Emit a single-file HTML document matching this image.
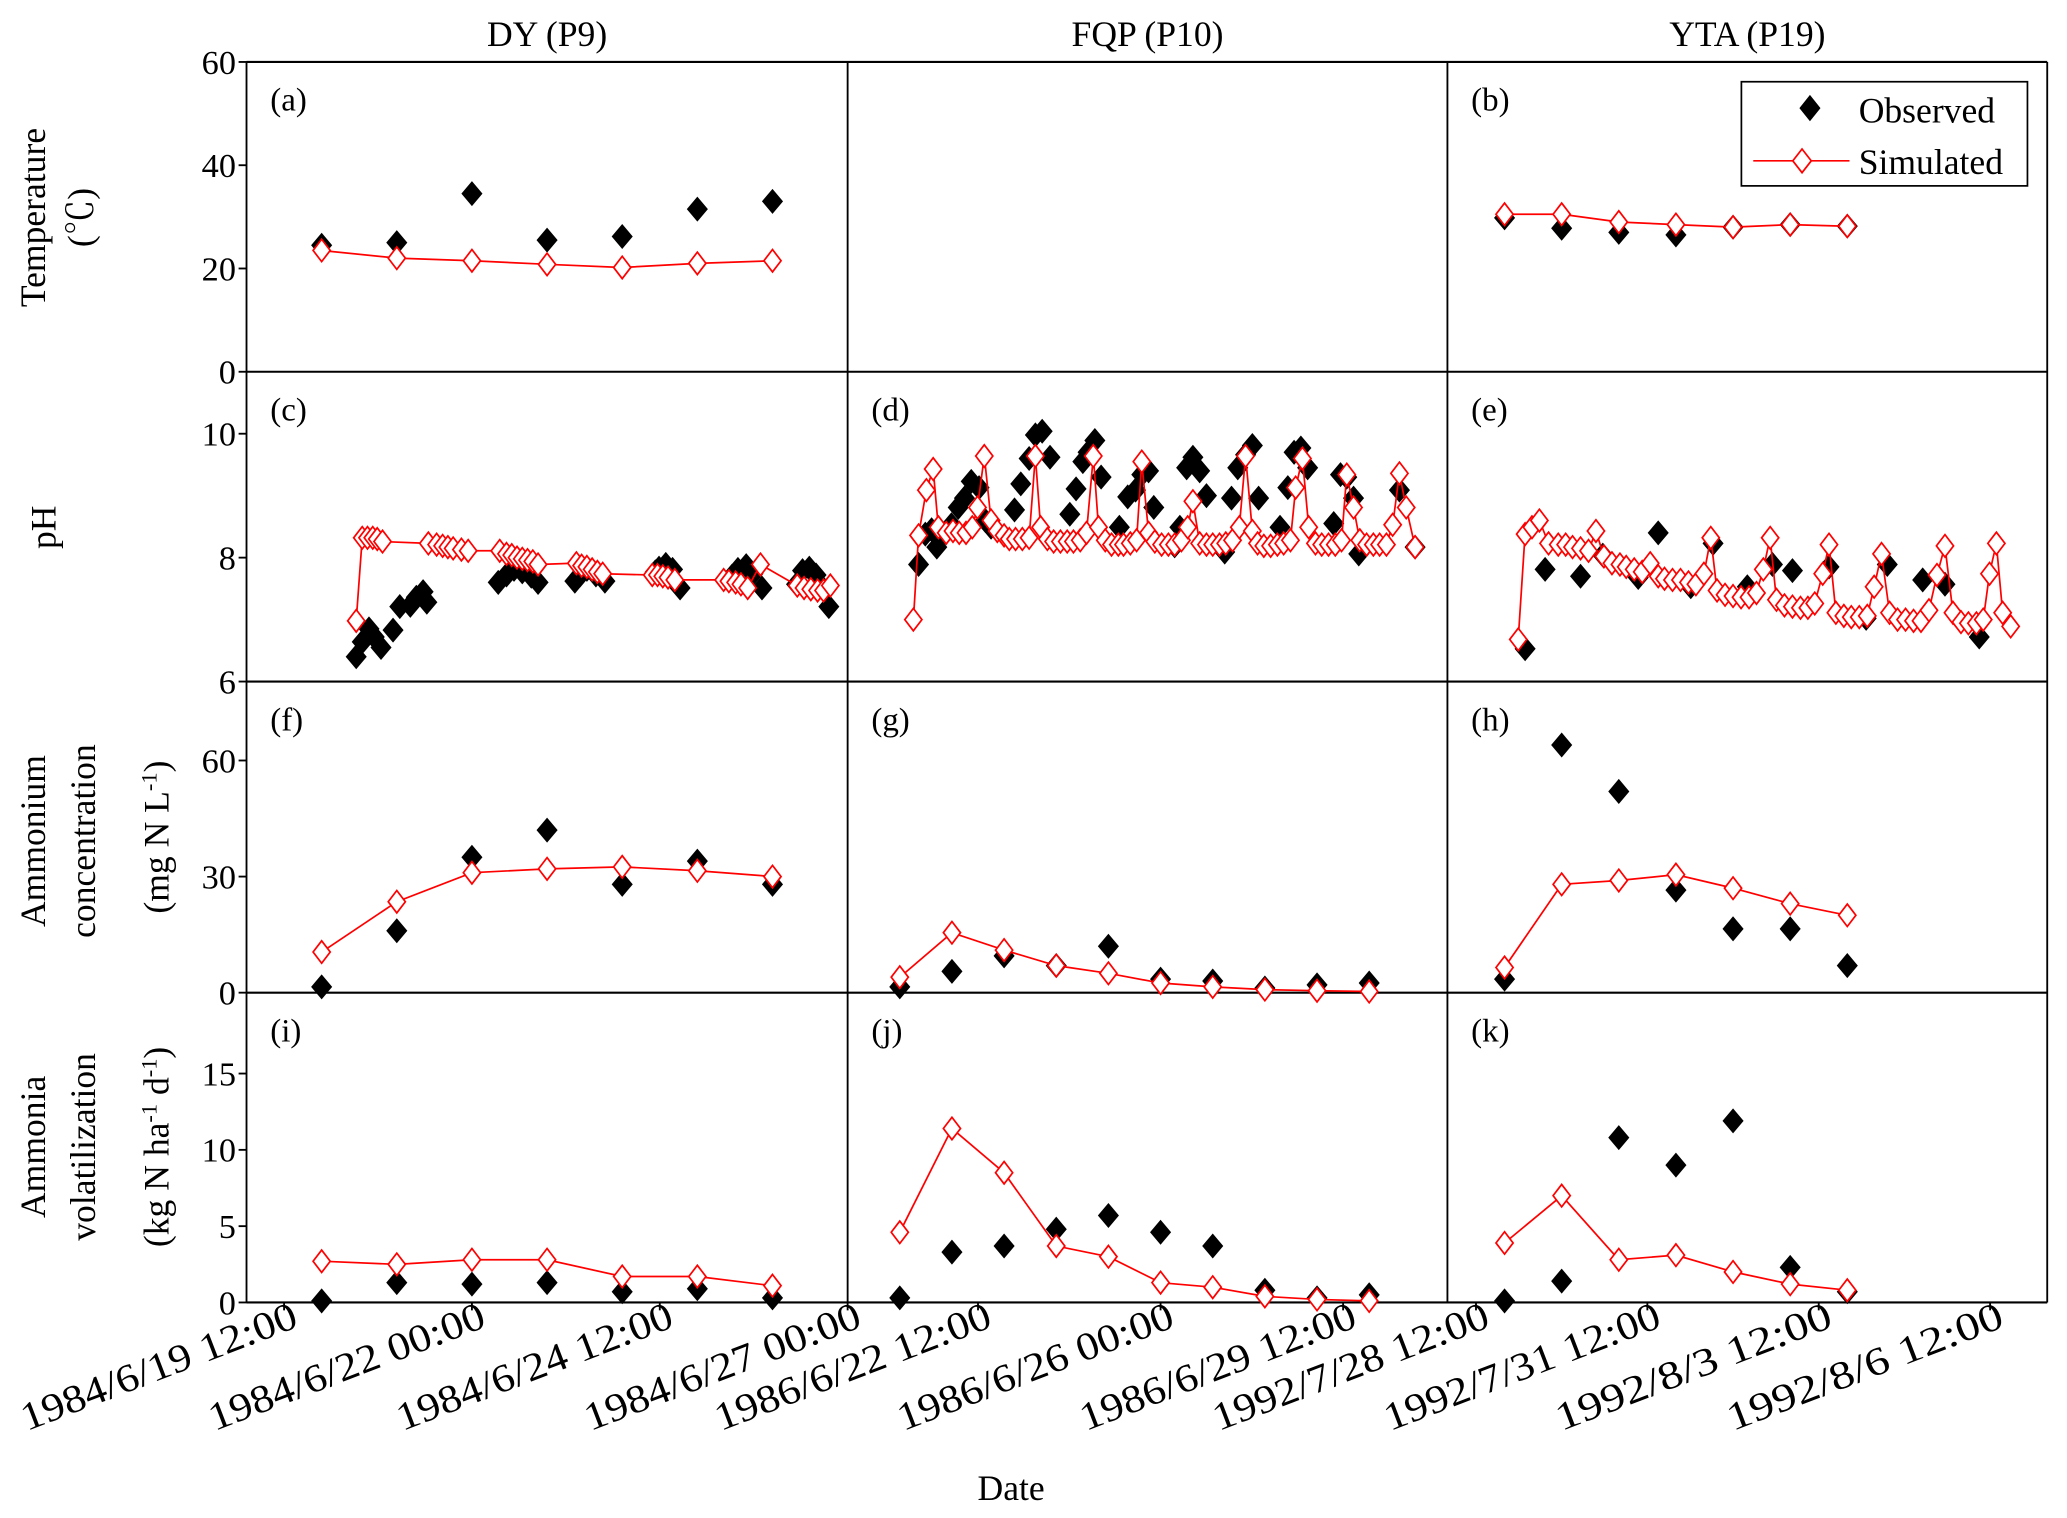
<!DOCTYPE html>
<html><head><meta charset="utf-8"><style>
html,body{margin:0;padding:0;background:#fff;}
svg{display:block;font-family:"Liberation Serif","Noto Serif CJK SC",serif;}
</style></head><body>
<svg id="chart" width="2067" height="1518" viewBox="0 0 1568 1151.5" preserveAspectRatio="none" xmlns="http://www.w3.org/2000/svg">
<g id="frame"></g>
<g id="marks"></g>
<g id="labels"></g>
</svg>
<script>
// ---- data (x in days from first tick of each column) ----
const tDaysA=[0.5,1.5,2.5,3.5,4.5,5.5,6.5];
const tObsA=[24.5,25,34.5,25.5,26.2,31.5,33];
const tSimA=[23.5,22,21.5,20.8,20.2,21,21.5];
const tDaysB=[0.5,1.5,2.5,3.5,4.5,5.5,6.5];
const tObsB=[29.8,27.8,27,26.5,28,28.5,28.2];
const tSimB=[30.5,30.5,29,28.5,28,28.5,28.2];

const phObsDaysC=[0.96,1.04,1.13,1.20,1.29,1.45,1.54,1.68,1.76,1.85,1.90,2.85,2.96,3.06,3.17,3.29,3.38,3.87,3.94,4.03,4.15,4.27,4.94,4.99,5.08,5.17,5.27,5.96,6.04,6.15,6.24,6.36,6.82,6.90,6.99,7.08,7.17,7.25];
const phObsC=[6.40,6.64,6.85,6.72,6.55,6.83,7.21,7.23,7.36,7.45,7.28,7.60,7.72,7.81,7.77,7.70,7.60,7.62,7.72,7.81,7.72,7.62,7.77,7.83,7.89,7.81,7.51,7.70,7.81,7.87,7.74,7.51,7.57,7.79,7.83,7.72,7.51,7.21];
const phSimDaysC=[0.96,1.04,1.11,1.18,1.24,1.31,1.92,2.03,2.11,2.18,2.25,2.36,2.45,2.87,2.96,3.03,3.10,3.17,3.24,3.31,3.38,3.89,3.96,4.03,4.10,4.17,4.24,4.90,4.97,5.04,5.11,5.20,5.85,5.92,6.01,6.08,6.17,6.34,6.83,6.92,7.01,7.10,7.18,7.27];
const phSimC=[6.98,8.32,8.32,8.32,8.30,8.26,8.23,8.21,8.19,8.17,8.15,8.13,8.11,8.11,8.06,8.04,8.00,7.98,7.96,7.94,7.89,7.91,7.87,7.85,7.81,7.77,7.74,7.72,7.72,7.70,7.68,7.64,7.64,7.62,7.60,7.57,7.51,7.89,7.55,7.51,7.49,7.47,7.47,7.55];

const phObsDaysD=[-1.14,-1.01,-0.89,-0.79,-0.66,-0.51,-0.38,-0.26,-0.13,0.02,0.14,0.25,0.70,0.82,0.98,1.10,1.23,1.38,1.76,1.88,2.01,2.11,2.24,2.36,2.71,2.87,3.02,3.14,3.27,3.37,3.77,3.87,4.00,4.12,4.25,4.38,4.73,4.86,4.98,5.13,5.26,5.38,5.79,5.94,6.06,6.19,6.32,6.82,6.95,7.07,7.20,7.30,8.08,8.38];
const phObsD=[7.89,8.38,8.45,8.17,8.38,8.53,8.81,8.96,9.23,9.13,8.60,8.49,8.77,9.19,9.60,9.98,10.04,9.62,8.70,9.11,9.55,9.70,9.89,9.30,8.49,8.98,9.09,9.34,9.40,8.81,8.19,8.49,9.45,9.62,9.40,9.00,8.09,8.96,9.45,9.66,9.81,8.96,8.49,9.13,9.70,9.77,9.45,8.55,9.34,9.30,8.96,8.06,9.09,8.17];
const phSimDaysD=[-1.24,-1.14,-0.99,-0.86,-0.76,-0.61,-0.48,-0.36,-0.23,-0.11,-0.01,0.12,0.25,0.37,0.50,0.60,0.72,0.85,0.98,1.10,1.20,1.33,1.45,1.58,1.71,1.83,1.96,2.08,2.21,2.31,2.44,2.56,2.69,2.79,2.92,3.04,3.14,3.27,3.39,3.52,3.65,3.77,3.90,4.02,4.12,4.25,4.38,4.50,4.63,4.75,4.88,5.01,5.13,5.26,5.36,5.48,5.61,5.74,5.86,5.99,6.09,6.22,6.34,6.47,6.59,6.72,6.85,6.97,7.07,7.20,7.32,7.45,7.58,7.70,7.83,7.95,8.08,8.21,8.38];
const phSimD=[7.00,8.36,9.09,9.43,8.49,8.40,8.43,8.40,8.40,8.49,8.81,9.64,8.60,8.43,8.36,8.30,8.30,8.30,8.32,9.64,8.49,8.30,8.26,8.26,8.26,8.26,8.28,8.40,9.64,8.49,8.28,8.21,8.21,8.21,8.23,8.28,9.55,8.40,8.26,8.21,8.21,8.21,8.28,8.49,8.91,8.23,8.21,8.21,8.21,8.23,8.28,8.49,9.64,8.43,8.23,8.19,8.19,8.21,8.23,8.28,9.13,9.60,8.49,8.23,8.21,8.21,8.21,8.28,9.34,8.81,8.28,8.21,8.21,8.21,8.21,8.53,9.36,8.81,8.17];

const phObsDaysE=[0.86,1.21,1.83,2.22,2.84,3.19,3.76,4.15,4.75,5.19,5.54,6.18,6.83,7.20,7.82,8.21,8.81];
const phObsE=[6.53,7.81,7.70,8.04,7.68,8.40,7.53,8.23,7.53,7.89,7.79,7.85,7.02,7.89,7.64,7.57,6.72];
const phSimDaysE=[0.74,0.86,0.98,1.11,1.27,1.44,1.57,1.69,1.83,1.97,2.10,2.24,2.38,2.52,2.63,2.77,2.91,3.05,3.19,3.30,3.44,3.58,3.72,3.85,3.99,4.11,4.22,4.36,4.50,4.64,4.78,4.91,5.03,5.15,5.26,5.40,5.54,5.68,5.81,5.93,6.07,6.18,6.30,6.44,6.57,6.71,6.85,6.97,7.10,7.24,7.38,7.52,7.66,7.79,7.93,8.07,8.21,8.35,8.49,8.62,8.76,8.88,8.99,9.11,9.22,9.36];
const phSimE=[6.68,8.38,8.49,8.60,8.23,8.21,8.21,8.17,8.15,8.11,8.43,8.02,7.91,7.89,7.85,7.81,7.77,7.91,7.70,7.66,7.64,7.64,7.60,7.57,7.74,8.32,7.47,7.40,7.38,7.36,7.36,7.43,7.81,8.32,7.32,7.23,7.21,7.19,7.19,7.26,7.74,8.21,7.11,7.06,7.04,7.04,7.06,7.53,8.06,7.11,7.00,7.00,6.98,6.98,7.15,7.72,8.19,7.11,6.96,6.94,6.94,7.00,7.74,8.23,7.11,6.89];

const nDaysF=[0.5,1.5,2.5,3.5,4.5,5.5,6.5];
const nObsF=[1.5,16,35,42,28,34,28];
const nSimF=[10.5,23.5,31,32,32.5,31.5,30];
const nDaysG=[-1.5,-0.5,0.5,1.5,2.5,3.5,4.5,5.5,6.5,7.5];
const nObsG=[1.5,5.5,9.5,7,12,3.5,3,1.2,2,2.5];
const nSimG=[4,15.5,11,7,5,2.5,1.5,0.8,0.5,0.3];
const nDaysH=[0.5,1.5,2.5,3.5,4.5,5.5,6.5];
const nObsH=[3.5,64,52,26.5,16.5,16.5,7];
const nSimH=[6.5,28,29,30.5,27,23,20];

const vDaysI=[0.5,1.5,2.5,3.5,4.5,5.5,6.5];
const vObsI=[0.1,1.3,1.2,1.3,0.7,0.9,0.3];
const vSimI=[2.7,2.5,2.8,2.8,1.7,1.7,1.1];
const vDaysJ=[-1.5,-0.5,0.5,1.5,2.5,3.5,4.5,5.5,6.5,7.5];
const vObsJ=[0.3,3.3,3.7,4.8,5.7,4.6,3.7,0.8,0.3,0.5];
const vSimJ=[4.6,11.4,8.5,3.7,3.0,1.3,1.0,0.4,0.2,0.1];
const vDaysK=[0.5,1.5,2.5,3.5,4.5,5.5,6.5];
const vObsK=[0.1,1.4,10.8,9.0,11.9,2.3,0.7];
const vSimK=[3.9,7.0,2.8,3.1,2.0,1.2,0.8];

const colTitles=["DY (P9)","FQP (P10)","YTA (P19)"];
const xTickVals=[[0,2.5,5,7.5],[0,3.5,7],[0,3,6,9]];
const xTickLabels=[["1984/6/19 12:00","1984/6/22 00:00","1984/6/24 12:00","1984/6/27 00:00"],["1986/6/22 12:00","1986/6/26 00:00","1986/6/29 12:00"],["1992/7/28 12:00","1992/7/31 12:00","1992/8/3 12:00","1992/8/6 12:00"]];
const yTickVals=[[0,20,40,60],[6,8,10],[0,30,60],[0,5,10,15]];

// ---- layout ----
const NS="http://www.w3.org/2000/svg";
const colX=[187,643,1098,1553];
const rowY=[47,282,517,753,988];
const xDom=[[-0.5,7.5],[-2.5,9],[-0.5,10]];
const yDom=[[0,60],[6,11],[0,80.4],[0,20.3]];
function sx(c,d){return colX[c]+(d-xDom[c][0])/(xDom[c][1]-xDom[c][0])*(colX[c+1]-colX[c]);}
function sy(r,v){return rowY[r+1]-(v-yDom[r][0])/(yDom[r][1]-yDom[r][0])*(rowY[r+1]-rowY[r]);}
function el(tag,attrs,parent){const e=document.createElementNS(NS,tag);for(const k in attrs)e.setAttribute(k,attrs[k]);parent.appendChild(e);return e;}
const frame=document.getElementById('frame'),marks=document.getElementById('marks'),labels=document.getElementById('labels');

for(let r=0;r<=4;r++){const l=el('line',{x1:187,x2:1553,y1:rowY[r],y2:rowY[r],stroke:'#000','stroke-width':1.6},frame);

}
for(let c=0;c<=3;c++){const l=el('line',{x1:colX[c],x2:colX[c],y1:47,y2:988,stroke:'#000','stroke-width':1.4},frame);

}

yTickVals.forEach((vals,r)=>{vals.forEach(v=>{const y=sy(r,v);
const t=el('line',{x1:181,x2:187,y1:y,y2:y,stroke:'#000','stroke-width':1.4},frame);


const tx=el('text',{x:179,y:y+9,'text-anchor':'end','font-size':26},labels);tx.textContent=v;

});});

xTickVals.forEach((vals,c)=>{vals.forEach((v,i)=>{const x=sx(c,v);
const t=el('line',{x1:x,x2:x,y1:988,y2:994,stroke:'#000','stroke-width':1.4},frame);


const tx=el('text',{transform:`translate(${x+12},${1006}) rotate(-21)`,'text-anchor':'end','font-size':30,textLength:222,lengthAdjust:'spacingAndGlyphs'},labels);tx.textContent=xTickLabels[c][i];

});});

colTitles.forEach((t,c)=>{const tx=el('text',{x:(colX[c]+colX[c+1])/2,y:35,'text-anchor':'middle','font-size':27},labels);tx.textContent=t;

});

const letters=[["(a)",0,0],["(b)",2,0],["(c)",0,1],["(d)",1,1],["(e)",2,1],["(f)",0,2],["(g)",1,2],["(h)",2,2],["(i)",0,3],["(j)",1,3],["(k)",2,3]];
letters.forEach(([t,c,r])=>{const tx=el('text',{x:colX[c]+18,y:rowY[r]+37,'font-size':25},labels);tx.textContent=t;

});

function series(c,r,days,obs,sim,simDays){
  const sd=simDays||days;
  const pts=sd.map((d,i)=>sx(c,d).toFixed(1)+','+sy(r,sim[i]).toFixed(1)).join(' ');
  const pl=el('polyline',{points:pts,fill:'none',stroke:'#f00','stroke-width':1.3},marks);
  
  
  sd.forEach((d,i)=>{const x=sx(c,d),y=sy(r,sim[i]);
    const p=el('polygon',{points:`${x},${y-8.5} ${x+6.5},${y} ${x},${y+8.5} ${x-6.5},${y}`,fill:'#fff',stroke:'#f00','stroke-width':1.3},marks);
    
    });
  return pl;
}
function observed(c,r,days,obs){
  days.forEach((d,i)=>{const x=sx(c,d),y=sy(r,obs[i]);
    const p=el('polygon',{points:`${x},${y-9.5} ${x+8},${y} ${x},${y+9.5} ${x-8},${y}`,fill:'#000'},marks);
    
    });
}
observed(0,0,tDaysA,tObsA);series(0,0,tDaysA,null,tSimA);
observed(2,0,tDaysB,tObsB);series(2,0,tDaysB,null,tSimB);
observed(0,1,phObsDaysC,phObsC);series(0,1,null,null,phSimC,phSimDaysC);
observed(1,1,phObsDaysD,phObsD);series(1,1,null,null,phSimD,phSimDaysD);
observed(2,1,phObsDaysE,phObsE);series(2,1,null,null,phSimE,phSimDaysE);
observed(0,2,nDaysF,nObsF);series(0,2,nDaysF,null,nSimF);
observed(1,2,nDaysG,nObsG);series(1,2,nDaysG,null,nSimG);
observed(2,2,nDaysH,nObsH);series(2,2,nDaysH,null,nSimH);
observed(0,3,vDaysI,vObsI);series(0,3,vDaysI,null,vSimI);
observed(1,3,vDaysJ,vObsJ);series(1,3,vDaysJ,null,vSimJ);
observed(2,3,vDaysK,vObsK);series(2,3,vDaysK,null,vSimK);
</script>
<svg style="position:absolute;left:0;top:0" width="2067" height="1518" viewBox="0 0 1568 1151.5" preserveAspectRatio="none" xmlns="http://www.w3.org/2000/svg" font-family="Liberation Serif, Noto Serif CJK SC, serif">
<g font-size="27" text-anchor="middle">
<text transform="translate(34,165) rotate(-90)">Temperature</text>
<text transform="translate(70,165) rotate(-90)">(℃)</text>
</g>
<text font-size="27" text-anchor="middle" transform="translate(42,400) rotate(-90)">pH</text>
<g font-size="27" text-anchor="middle">
<text transform="translate(34,638) rotate(-90)">Ammonium</text>
<text transform="translate(72,638) rotate(-90)">concentration</text>
<text transform="translate(128,635) rotate(-90)">(mg N L<tspan baseline-shift="super" font-size="17">-1</tspan>)</text>
</g>
<g font-size="27" text-anchor="middle">
<text transform="translate(34,870) rotate(-90)">Ammonia</text>
<text transform="translate(72,870) rotate(-90)">volatilization</text>
<text transform="translate(128,870) rotate(-90)">(kg N ha<tspan baseline-shift="super" font-size="17">-1</tspan> d<tspan baseline-shift="super" font-size="17">-1</tspan>)</text>
</g>
<text x="767" y="1138" font-size="27" text-anchor="middle">Date</text>
<g>
<rect x="1321" y="62" width="217" height="79" fill="#fff" stroke="#000" stroke-width="1.3"/>
<polygon points="1373,72 1381,82 1373,92 1365,82" fill="#000"/>
<text x="1410" y="93" font-size="27">Observed</text>
<line x1="1330" x2="1403" y1="122" y2="122" stroke="#f00" stroke-width="1.3"/>
<polygon points="1367,113 1374,122 1367,131 1360,122" fill="#fff" stroke="#f00" stroke-width="1.3"/>
<text x="1410" y="132" font-size="27">Simulated</text>
</g>
</svg>
</body></html>
